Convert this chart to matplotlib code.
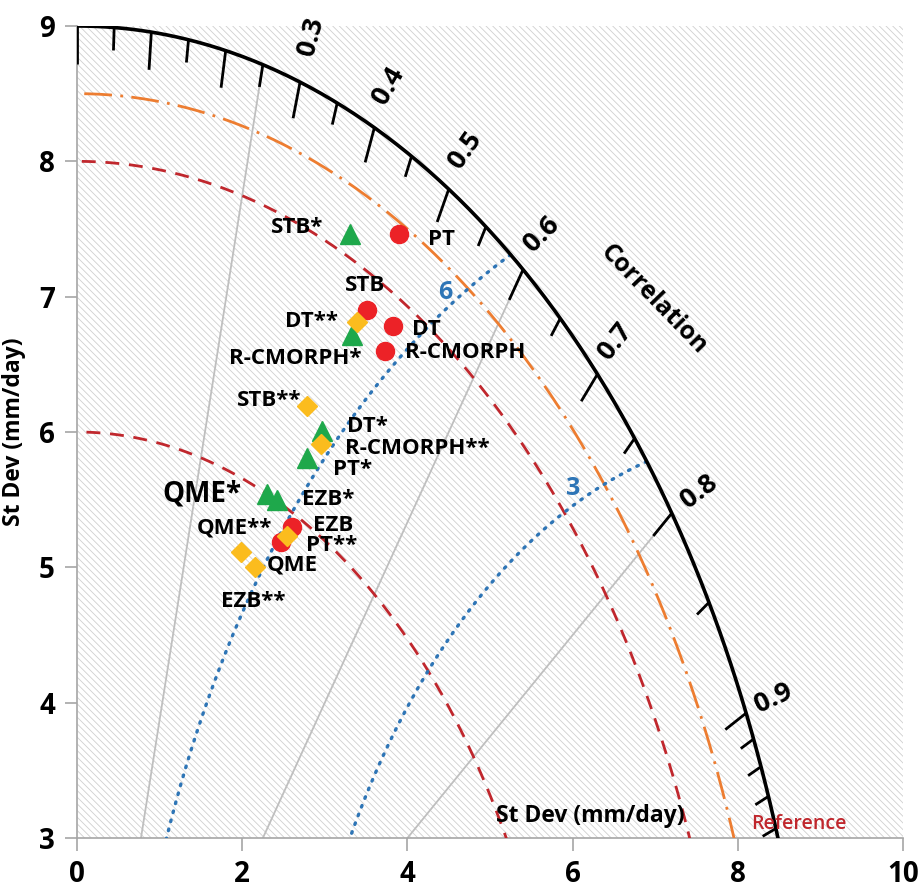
import numpy as np
import matplotlib.pyplot as plt
from matplotlib.patches import Rectangle

plt.rcParams['font.family'] = ['Open Sans', 'DejaVu Sans']
plt.rcParams['hatch.color'] = '#d0d0d0'
plt.rcParams['hatch.linewidth'] = 0.6

# products (std dev, mm/day) -- circles: original, triangles: *, diamonds: **
circ_names = ['PT', 'STB', 'DT', 'R-CMORPH', 'EZB', 'QME']
circ_x = [3.90, 3.51, 3.82, 3.73, 2.60, 2.47]
circ_y = [7.46, 6.90, 6.78, 6.60, 5.30, 5.19]

tri_names = ['STB*', 'R-CMORPH*', 'DT*', 'PT*', 'QME*', 'EZB*']
tri_x = [3.30, 3.33, 2.96, 2.78, 2.30, 2.42]
tri_y = [7.46, 6.72, 6.01, 5.81, 5.54, 5.50]

dia_names = ['DT**', 'STB**', 'R-CMORPH**', 'PT**', 'QME**', 'EZB**']
dia_x = [3.39, 2.78, 2.95, 2.54, 1.98, 2.15]
dia_y = [6.81, 6.19, 5.91, 5.23, 5.11, 5.00]

ref_std = 8.5
outer_std = 9.0
std_arcs = [6, 8]
rms_radii = [6, 8]
rms_labels = ['3', '6']
corr_lines = [0.25, 0.6, 0.8]
corr_labels = [0.3, 0.4, 0.5, 0.6, 0.7, 0.8, 0.9]

# where the point labels go (x, y, ha)
label_pos = {
    'PT': (4.25, 7.42, 'left'), 'STB': (3.49, 7.08, 'center'),
    'DT': (4.05, 6.76, 'left'), 'R-CMORPH': (3.97, 6.59, 'left'),
    'EZB': (2.86, 5.31, 'left'), 'QME': (2.30, 5.02, 'left'),
    'STB*': (2.98, 7.51, 'right'), 'R-CMORPH*': (3.45, 6.54, 'right'),
    'DT*': (3.27, 6.04, 'left'), 'PT*': (3.10, 5.72, 'left'),
    'QME*': (1.99, 5.54, 'right'), 'EZB*': (2.72, 5.50, 'left'),
    'DT**': (3.16, 6.82, 'right'), 'STB**': (2.72, 6.23, 'right'),
    'R-CMORPH**': (3.24, 5.88, 'left'), 'PT**': (2.77, 5.16, 'left'),
    'QME**': (2.36, 5.29, 'right'), 'EZB**': (2.13, 4.75, 'center'),
}
corr_label_pos = {0.3: (2.84, 8.92, 75), 0.4: (3.77, 8.56, 60), 0.5: (4.70, 8.08, 55),
                  0.6: (5.63, 7.46, 45), 0.7: (6.52, 6.67, 52), 0.8: (7.53, 5.56, 37),
                  0.9: (8.43, 4.03, 25)}

fig = plt.figure(figsize=(9.22, 8.90), dpi=100)
ax = fig.add_axes([0.0835, 0.0584, 0.896, 0.9124])
ax.set_xlim(0, 10)
ax.set_ylim(3, 9)

ax.add_patch(Rectangle((0, 3), 10, 6, facecolor='white', edgecolor='#d0d0d0', lw=0,
                       hatch='\\\\\\\\\\', zorder=0))

th = np.linspace(0, np.pi / 2, 400)

# correlation rays
for r in corr_lines:
    a = np.arccos(r)
    ax.plot([0, outer_std * np.cos(a)], [0, outer_std * np.sin(a)], color='#bfbfbf', lw=1.3, zorder=1)

# std dev arcs
for s in std_arcs:
    ax.plot(s * np.cos(th), s * np.sin(th), color='#c0272d', lw=2, ls=(0, (5, 3.5)), zorder=2)
ax.plot(ref_std * np.cos(th), ref_std * np.sin(th), color='#ed7d31', lw=2,
        ls=(0, (10, 3, 1, 3)), zorder=2)

# centred rms arcs around the reference
for R, lab in zip(rms_radii, rms_labels):
    xi = (outer_std ** 2 - R ** 2 + ref_std ** 2) / (2 * ref_std)
    yi = np.sqrt(outer_std ** 2 - xi ** 2)
    p0 = np.arctan2(yi, xi - ref_std)
    p = np.linspace(p0, np.pi, 400)
    ax.plot(ref_std + R * np.cos(p), R * np.sin(p), color='#2e75b6', lw=2.4,
            ls=(0, (0.5, 2.3)), dash_capstyle='round', zorder=2)
ax.text(4.46, 7.03, rms_labels[1], color='#2e75b6', fontsize=18, fontweight='bold',
        ha='center', va='center', zorder=5)
ax.text(6.01, 5.58, rms_labels[0], color='#2e75b6', fontsize=18, fontweight='bold',
        ha='center', va='center', zorder=5)

# outer arc + correlation ticks
ax.plot(outer_std * np.cos(th), outer_std * np.sin(th), color='black', lw=2.6, zorder=3)
ticks = list(np.round(np.arange(0, 0.91, 0.05), 2)) + [0.91, 0.92, 0.93, 0.94]
for r in ticks:
    a = np.arccos(r)
    major = abs(r * 10 - round(r * 10)) < 1e-6
    L = 0.28 if major else 0.17
    ax.plot([outer_std * np.cos(a), (outer_std - L) * np.cos(a)],
            [outer_std * np.sin(a), (outer_std - L) * np.sin(a)],
            color='black', lw=2.0, solid_capstyle='butt', zorder=3)
for r in corr_labels:
    x, y, rot = corr_label_pos[r]
    ax.text(x, y, f'{r:.1f}', rotation=rot, fontsize=19.5, fontweight='bold',
            ha='center', va='center', rotation_mode='anchor')
ax.text(6.98, 6.98, 'Correlation', rotation=-46, fontsize=18, fontweight='bold',
        ha='center', va='center', rotation_mode='anchor')

# points
ax.plot(tri_x, tri_y, '^', color='#1ea84b', ms=14, ls='none', zorder=4)
ax.plot(circ_x, circ_y, 'o', color='#ec2227', ms=13, ls='none', zorder=4)
ax.plot(dia_x, dia_y, 'D', color='#fbbc1e', ms=10.5, ls='none', zorder=4)

for name in circ_names + tri_names + dia_names:
    x, y, ha = label_pos[name]
    fs = 20 if name == 'QME*' else 16
    ax.text(x, y, name, fontsize=fs, fontweight='bold', ha=ha, va='center', zorder=6)

ax.text(5.07, 3.16, 'St Dev (mm/day)', fontsize=16.5, fontweight='bold', ha='left', va='center', zorder=6)
ax.text(8.16, 3.1, 'Reference', fontsize=14, fontweight='semibold', color='#c0272d',
        ha='left', va='center', zorder=6)

# axes
for side in ['top', 'right']:
    ax.spines[side].set_visible(False)
for side in ['left', 'bottom']:
    ax.spines[side].set_color('#a6a6a6')
    ax.spines[side].set_linewidth(1.2)
    ax.spines[side].set_zorder(1)
ax.set_xticks([0, 2, 4, 6, 8, 10])
ax.set_yticks([3, 4, 5, 6, 7, 8, 9])
ax.tick_params(direction='out', length=9, width=1.2, color='#a6a6a6', labelsize=20, pad=7)
for lbl in ax.get_xticklabels() + ax.get_yticklabels():
    lbl.set_fontweight('bold')
ax.set_ylabel('St Dev (mm/day)', fontsize=16.5, fontweight='bold')
ax.yaxis.set_label_coords(-0.062, 0.5)

fig.savefig('out.png', dpi=100)
